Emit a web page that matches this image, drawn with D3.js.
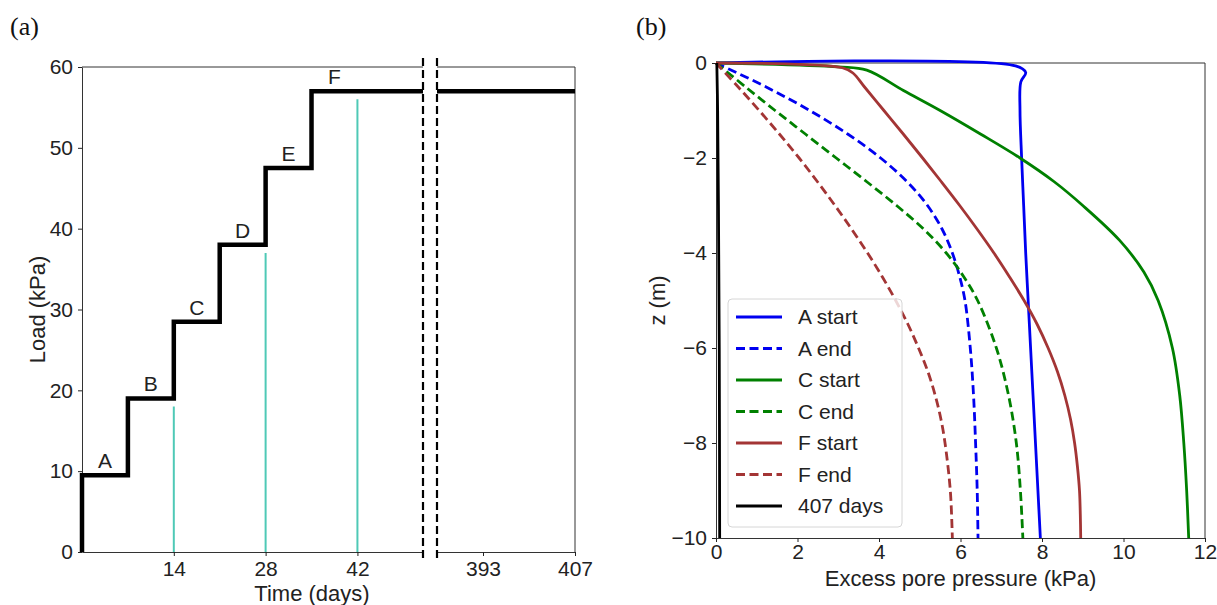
<!DOCTYPE html>
<html>
<head>
<meta charset="utf-8">
<script src="https://cdn.jsdelivr.net/npm/d3@7"></script>
<style>
  body { margin: 0; background: #fff; }
</style>
</head>
<body>
<div id="chart"></div>
<script>
// ---- data, panel (a) ----
const loadTimes = [0, 7, 14, 21, 28, 35];
const loadValues = [9.5, 19, 28.5, 38, 47.5, 57];
const stageLabels = ['A', 'B', 'C', 'D', 'E', 'F'];
const markerTimes = [14, 28, 42];
const markerLoads = [18, 37, 56];
const timeTicksLeft = [14, 28, 42];
const timeTicksRight = [393, 407];
const loadTicks = [0, 10, 20, 30, 40, 50, 60];

// ---- data, panel (b) ----
const aStartZ = [0, -0.06, -0.2, -0.4, -1, -2, -3, -4, -5, -6, -7, -8, -9, -10];
const aStartU = [0, 7.35, 7.6, 7.48, 7.46, 7.5, 7.55, 7.6, 7.66, 7.72, 7.78, 7.84, 7.9, 7.96];
const aEndZ = [0, -0.5, -1, -1.5, -2, -2.5, -3, -3.5, -4, -4.5, -5, -6, -7, -8, -9, -10];
const aEndU = [0, 1.22, 2.3, 3.24, 4.04, 4.69, 5.19, 5.55, 5.8, 5.98, 6.11, 6.24, 6.32, 6.37, 6.41, 6.43];
const cStartZ = [0, -0.08, -0.15, -0.58, -1.0, -1.5, -2.0, -2.5, -3.0, -3.73, -4.4, -5.0, -6.0, -7.0, -8.0, -9.0, -10];
const cStartU = [0, 3.0, 3.7, 4.6, 5.5, 6.5, 7.46, 8.3, 9.0, 9.9, 10.5, 10.85, 11.2, 11.38, 11.48, 11.55, 11.6];
const cEndZ = [0, -0.5, -1, -1.5, -2, -2.5, -3, -3.5, -4, -4.5, -5, -6, -7, -8, -9, -10];
const cEndU = [0, 0.72, 1.45, 2.2, 2.95, 3.7, 4.43, 5.1, 5.65, 6.08, 6.42, 6.88, 7.18, 7.37, 7.47, 7.53];
const fStartZ = [0, -0.1, -0.21, -0.5, -1, -1.5, -2, -2.5, -3, -3.5, -4, -4.5, -5, -5.5, -6, -6.5, -7, -7.5, -8, -8.5, -9, -9.5, -10];
const fStartU = [0, 3.1, 3.36, 3.64, 4.12, 4.6, 5.07, 5.53, 5.98, 6.41, 6.82, 7.2, 7.56, 7.88, 8.15, 8.38, 8.56, 8.7, 8.8, 8.87, 8.92, 8.94, 8.95];
const fEndZ = [0, -0.5, -1, -1.5, -2, -2.5, -3, -3.5, -4, -4.5, -5, -5.5, -6, -6.5, -7, -7.5, -8, -9, -10];
const fEndU = [0, 0.54, 1.06, 1.56, 2.04, 2.49, 2.92, 3.33, 3.72, 4.08, 4.41, 4.71, 4.97, 5.2, 5.38, 5.52, 5.62, 5.75, 5.8];
const finalZ = [0, -1, -3, -6, -10];
const finalU = [0.02, 0.04, 0.06, 0.08, 0.09];
const pressureTicks = [0, 2, 4, 6, 8, 10, 12];
const depthTicks = [0, -2, -4, -6, -8, -10];

const svg = d3.select('#chart')
  .append('svg')
  .attr('width', 1217)
  .attr('height', 605);

const ink = '#222';
const sans = '"Liberation Sans", Arial, sans-serif';
const serif = '"Liberation Serif", "Times New Roman", serif';
const tickFont = 21;
const labelFont = 22;
const legendFont = 21;

function styleAxis(g) {
  g.attr('font-size', tickFont)
    .attr('font-family', sans)
    .attr('color', ink);
  g.select('.domain').attr('stroke', '#333');
}

function addText(x, y, str, size, anchor) {
  return svg.append('text')
    .attr('x', x)
    .attr('y', y)
    .attr('text-anchor', anchor || 'start')
    .attr('font-family', sans)
    .attr('font-size', size)
    .attr('fill', ink)
    .text(str);
}

// =========== panel (a) ===========
const xLeft = d3.scaleLinear().domain([0, 52]).range([82, 423]);
const xRight = d3.scaleLinear().domain([386, 407]).range([437, 575]);
const yLoad = d3.scaleLinear().domain([0, 60]).range([552, 67]);

svg.append('g')
  .attr('transform', `translate(0,${yLoad(0)})`)
  .call(d3.axisBottom(xLeft).tickValues(timeTicksLeft).tickSize(4).tickPadding(5).tickSizeOuter(0))
  .call(styleAxis);
svg.append('g')
  .attr('transform', `translate(0,${yLoad(0)})`)
  .call(d3.axisBottom(xRight).tickValues(timeTicksRight).tickSize(4).tickPadding(5).tickSizeOuter(0))
  .call(styleAxis);
svg.append('g')
  .attr('transform', `translate(${xLeft(0)},0)`)
  .call(d3.axisLeft(yLoad).tickValues(loadTicks).tickSize(4).tickPadding(5).tickSizeOuter(0))
  .call(styleAxis);

// top and right spines
svg.append('line')
  .attr('x1', xLeft(0)).attr('x2', xLeft(52))
  .attr('y1', yLoad(60)).attr('y2', yLoad(60))
  .attr('stroke', '#333');
svg.append('line')
  .attr('x1', xRight(386)).attr('x2', xRight(407))
  .attr('y1', yLoad(60)).attr('y2', yLoad(60))
  .attr('stroke', '#333');
svg.append('line')
  .attr('x1', xRight(407)).attr('x2', xRight(407))
  .attr('y1', yLoad(60)).attr('y2', yLoad(0))
  .attr('stroke', '#333');

// teal marker lines
svg.selectAll('.marker')
  .data(markerTimes)
  .enter()
  .append('line')
  .attr('x1', d => xLeft(d))
  .attr('x2', d => xLeft(d))
  .attr('y1', yLoad(0))
  .attr('y2', (d, i) => yLoad(markerLoads[i]))
  .attr('stroke', '#4fc9b6')
  .attr('stroke-width', 2);

// load history
const stepPts = [[0, 0]]
  .concat(loadTimes.map((t, i) => [t, loadValues[i]]))
  .concat([[52, loadValues[loadValues.length - 1]]]);
const stepLine = d3.line()
  .x(d => xLeft(d[0]))
  .y(d => yLoad(d[1]))
  .curve(d3.curveStepAfter);
svg.append('path')
  .attr('d', stepLine(stepPts))
  .attr('fill', 'none')
  .attr('stroke', '#000')
  .attr('stroke-width', 4.5);
svg.append('line')
  .attr('x1', xRight(386)).attr('x2', xRight(407))
  .attr('y1', yLoad(57)).attr('y2', yLoad(57))
  .attr('stroke', '#000')
  .attr('stroke-width', 4.5);

// stage labels
svg.selectAll('.stage')
  .data(stageLabels)
  .enter()
  .append('text')
  .attr('x', (d, i) => xLeft(loadTimes[i] + 3.5))
  .attr('y', (d, i) => yLoad(loadValues[i]) - 7)
  .attr('text-anchor', 'middle')
  .attr('font-family', sans)
  .attr('font-size', tickFont)
  .attr('fill', ink)
  .text(d => d);

// axis break marks
[xLeft(52), xRight(386)].forEach(x => {
  svg.append('line')
    .attr('x1', x).attr('x2', x)
    .attr('y1', 58).attr('y2', 562)
    .attr('stroke', '#000')
    .attr('stroke-width', 2.2)
    .attr('stroke-dasharray', '8,4');
});

addText(312, 601, 'Time (days)', labelFont, 'middle');
addText(0, 0, 'Load (kPa)', labelFont, 'middle')
  .attr('transform', `translate(37,${(yLoad(0) + yLoad(60)) / 2}) rotate(-90)`)
  .attr('dy', '0.35em');
addText(10, 35, '(a)', 26).attr('font-family', serif).attr('fill', '#111');

// =========== panel (b) ===========
const xU = d3.scaleLinear().domain([0, 12]).range([716, 1205]);
const yZ = d3.scaleLinear().domain([0, -10]).range([63, 538]);

svg.append('g')
  .attr('transform', `translate(0,${yZ(-10)})`)
  .call(d3.axisBottom(xU).tickValues(pressureTicks).tickSize(4).tickPadding(2).tickSizeOuter(0))
  .call(styleAxis);
svg.append('g')
  .attr('transform', `translate(${xU(0)},0)`)
  .call(d3.axisLeft(yZ).tickValues(depthTicks).tickSize(4).tickPadding(5).tickSizeOuter(0)
    .tickFormat(d => (d < 0 ? '\u2212' + Math.abs(d) : d)))
  .call(styleAxis);
svg.append('line')
  .attr('x1', xU(0)).attr('x2', xU(12))
  .attr('y1', yZ(0)).attr('y2', yZ(0))
  .attr('stroke', '#333');
svg.append('line')
  .attr('x1', xU(12)).attr('x2', xU(12))
  .attr('y1', yZ(0)).attr('y2', yZ(-10))
  .attr('stroke', '#333');

const blue = '#0000f0';
const green = '#008000';
const brown = '#a33535';
const series = [
  { name: 'A start', u: aStartU, z: aStartZ, color: blue, dash: null },
  { name: 'A end', u: aEndU, z: aEndZ, color: blue, dash: '9,4.5' },
  { name: 'C start', u: cStartU, z: cStartZ, color: green, dash: null },
  { name: 'C end', u: cEndU, z: cEndZ, color: green, dash: '9,4.5' },
  { name: 'F start', u: fStartU, z: fStartZ, color: brown, dash: null },
  { name: 'F end', u: fEndU, z: fEndZ, color: brown, dash: '9,4.5' },
  { name: '407 days', u: finalU, z: finalZ, color: '#000', dash: null },
];

const profile = d3.line()
  .x(d => xU(d[0]))
  .y(d => yZ(d[1]))
  .curve(d3.curveCatmullRom.alpha(0.5));

svg.selectAll('.profile')
  .data(series)
  .enter()
  .append('path')
  .attr('d', s => profile(s.u.map((u, i) => [u, s.z[i]])))
  .attr('fill', 'none')
  .attr('stroke', s => s.color)
  .attr('stroke-width', 2.8)
  .attr('stroke-dasharray', s => s.dash);

// legend
const legend = svg.append('g').attr('transform', 'translate(728,299)');
legend.append('rect')
  .attr('width', 174).attr('height', 228)
  .attr('rx', 4)
  .attr('fill', '#fff')
  .attr('fill-opacity', 0.8)
  .attr('stroke', '#d6d6d6');
const entry = legend.selectAll('.entry')
  .data(series)
  .enter()
  .append('g')
  .attr('transform', (d, i) => `translate(0,${18 + i * 31.5})`);
entry.append('line')
  .attr('x1', 8).attr('x2', 54)
  .attr('stroke', d => d.color)
  .attr('stroke-width', 2.8)
  .attr('stroke-dasharray', d => d.dash);
entry.append('text')
  .attr('x', 70)
  .attr('dy', '0.35em')
  .attr('font-family', sans)
  .attr('font-size', legendFont)
  .attr('fill', ink)
  .text(d => d.name);

addText((xU(0) + xU(12)) / 2, 586, 'Excess pore pressure (kPa)', labelFont, 'middle');
addText(0, 0, 'z (m)', labelFont, 'middle')
  .attr('transform', `translate(657,${(yZ(0) + yZ(-10)) / 2}) rotate(-90)`)
  .attr('dy', '0.35em');
addText(636, 35, '(b)', 26).attr('font-family', serif).attr('fill', '#111');
</script>
</body>
</html>
